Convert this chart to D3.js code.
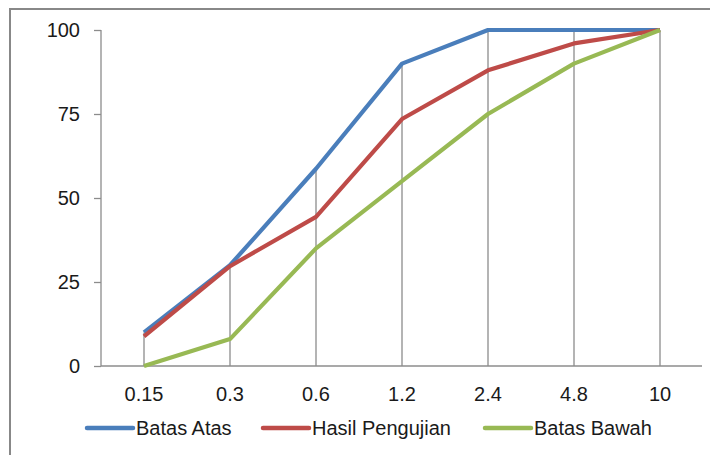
<!DOCTYPE html>
<html>
<head>
<meta charset="utf-8">
<script src="https://cdn.jsdelivr.net/npm/d3@7"></script>
<style>
    body { margin: 0; background: #fff; }
    svg { display: block; font-family: "Liberation Sans", Arial, sans-serif; }
    .axis-line { stroke: #8c8c8c; stroke-width: 1.3; }
    .drop-line { stroke: #8c8c8c; stroke-width: 1.3; }
    .tick-label { font-size: 20px; fill: #1a1a1a; }
</style>
</head>
<body>
<svg id="chart" width="710" height="455"></svg>
<script>
// categories (sieve sizes) and series values
const sieveSizes = ["0.15", "0.3", "0.6", "1.2", "2.4", "4.8", "10"];
const batasAtas = [10, 30, 58.7, 90, 100, 100, 100];
const hasilPengujian = [8.8, 29.7, 44.4, 73.5, 88, 96, 100];
const batasBawah = [0, 8, 35, 55, 75, 90, 100];
const yTicks = [0, 25, 50, 75, 100];

const seriesNames = ["Batas Atas", "Hasil Pengujian", "Batas Bawah"];
const seriesColors = ["#4a7ebb", "#be4b48", "#98b954"];

class Chart {
    constructor() {
        this.svg = d3.select("#chart");
        this.left = 101;
        this.right = 703;
        this.top = 30;
        this.bottom = 366;

        this.xScale = d3.scaleBand()
            .domain(sieveSizes)
            .range([this.left, this.right]);
        this.yScale = d3.scaleLinear()
            .domain([0, 100])
            .range([this.bottom, this.top]);

        this.series = [batasAtas, hasilPengujian, batasBawah].map((vals, i) => ({
            name: seriesNames[i],
            color: seriesColors[i],
            values: vals
        }));

        this.drawFrame();
        this.drawAxes();
        this.drawDropLines();
        this.drawLines();
        this.drawLegend();
    }

    cx(d) {
        return this.xScale(d) + this.xScale.bandwidth() / 2;
    }

    drawFrame() {
        // outer chart border, cut off on right and bottom
        this.svg.append("rect")
            .attr("x", 10)
            .attr("y", 9)
            .attr("width", 760)
            .attr("height", 500)
            .attr("fill", "none")
            .attr("stroke", "#888")
            .attr("stroke-width", 2);
    }

    drawAxes() {
        let yAxis = d3.axisLeft(this.yScale)
            .tickValues(yTicks)
            .tickSize(7)
            .tickPadding(14);
        let yG = this.svg.append("g")
            .attr("transform", `translate(${this.left},0)`)
            .call(yAxis);
        yG.select(".domain").attr("class", "axis-line").attr("fill", "none")
            .attr("d", `M0,${this.top}V${this.bottom}`);
        yG.selectAll(".tick line").attr("class", "axis-line");
        yG.selectAll(".tick text")
            .attr("class", "tick-label")
            .attr("font-family", null)
            .attr("font-size", null);

        let xAxis = d3.axisBottom(this.xScale)
            .tickSize(0)
            .tickPadding(21);
        let xG = this.svg.append("g")
            .attr("transform", `translate(0,${this.bottom})`)
            .call(xAxis);
        xG.select(".domain").attr("class", "axis-line").attr("fill", "none")
            .attr("d", `M${this.left},0H${this.right - 1}`);
        xG.selectAll(".tick text")
            .attr("class", "tick-label")
            .attr("font-family", null)
            .attr("font-size", null);
    }

    drawDropLines() {
        // vertical drop lines from the highest value down to the axis
        this.svg.append("g")
            .selectAll("line")
            .data(sieveSizes)
            .join("line")
            .attr("class", "drop-line")
            .attr("x1", d => this.cx(d))
            .attr("x2", d => this.cx(d))
            .attr("y1", (d, i) => this.yScale(d3.max(this.series, s => s.values[i])))
            .attr("y2", this.bottom);
    }

    drawLines() {
        let line = d3.line()
            .x((d, i) => this.cx(sieveSizes[i]))
            .y(d => this.yScale(d));

        this.svg.append("g")
            .selectAll("path")
            .data(this.series)
            .join("path")
            .attr("d", d => line(d.values))
            .attr("fill", "none")
            .attr("stroke", d => d.color)
            .attr("stroke-width", 4.2)
            .attr("stroke-linejoin", "round");
    }

    drawLegend() {
        let legendX = [87, 263, 485];
        let legendY = 428;
        let g = this.svg.append("g")
            .selectAll("g")
            .data(this.series)
            .join("g")
            .attr("transform", (d, i) => `translate(${legendX[i]},${legendY})`);

        g.append("line")
            .attr("x1", 0)
            .attr("x2", 46)
            .attr("stroke", d => d.color)
            .attr("stroke-width", 4.5)
            .attr("stroke-linecap", "round");
        g.append("text")
            .attr("class", "tick-label")
            .attr("x", 49)
            .attr("y", 7)
            .text(d => d.name);
    }
}

new Chart();
</script>
</body>
</html>
